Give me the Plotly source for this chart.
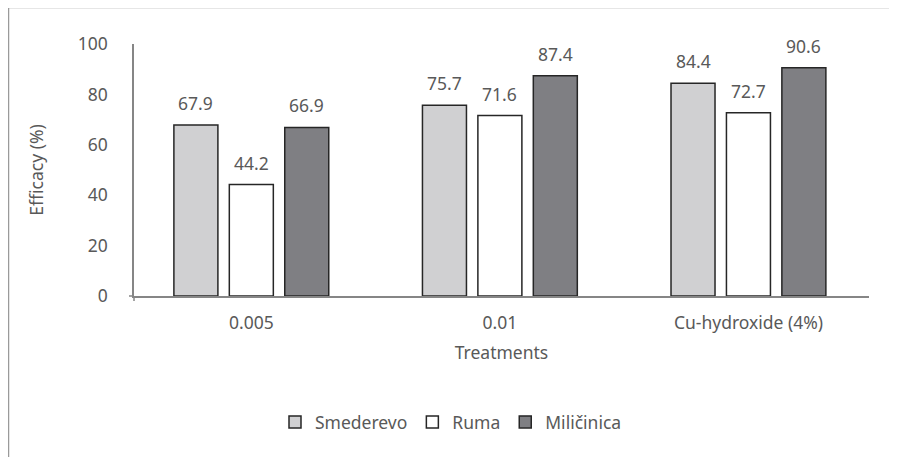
import plotly.graph_objects as go

categories = ["0.005", "0.01", "Cu-hydroxide (4%)"]
series_names = ["Smederevo", "Ruma", "Miličinica"]
smederevo = [67.9, 75.7, 84.4]
ruma = [44.2, 71.6, 72.7]
milicinica = [66.9, 87.4, 90.6]
y_ticks = [0, 20, 40, 60, 80, 100]

colors = ["#D0D0D2", "#FFFFFF", "#7F7F83"]
txt = "#595959"
font_family = "Noto Sans"
FS = 17.5

# page has an 8px body margin; figure sits at (8, 8) in the window
W, H = 889, 449
L, R, T, B = 126, 28, 36, 161
pw, ph = W - L - R, H - T - B
BARGAP, BARGROUPGAP = 0.331, 0.206
XR = [-0.472, 2.485]
slot_px = pw / (XR[1] - XR[0]) * (1 - BARGAP) / 3

fig = go.Figure()
annotations = []
for i, (name, vals, col) in enumerate(zip(series_names, [smederevo, ruma, milicinica], colors)):
    fig.add_trace(go.Bar(
        x=categories, y=vals, name=name,
        marker=dict(color=col, line=dict(color="#262626", width=1.5)),
    ))
    for j, v in enumerate(vals):
        # category axis: annotation x given as category index
        annotations.append(dict(
            x=j, y=v, xref="x", yref="y", text=f"{v:.1f}", showarrow=False,
            xshift=(i - 1) * slot_px, yshift=22, yanchor="middle",
            font=dict(size=FS, color=txt, family=font_family),
        ))

def px2x(px):
    return (px - L) / pw

def py2y(py):
    return (H - B - py) / ph

fig.update_layout(
    width=W, height=H,
    margin=dict(l=L, r=R, t=T, b=B),
    paper_bgcolor="white", plot_bgcolor="white",
    barmode="group", bargap=BARGAP, bargroupgap=BARGROUPGAP,
    font=dict(family=font_family, color=txt, size=FS),
    showlegend=True,
    annotations=annotations,
    legend=dict(orientation="h", x=px2x(443), xanchor="center", y=py2y(414), yanchor="middle",
                font=dict(size=FS, color=txt), itemwidth=30, traceorder="normal"),
    xaxis=dict(
        type="category", range=XR, showline=True, linecolor="#868686", linewidth=1.5,
        ticks="", showgrid=False, tickfont=dict(size=FS, color=txt),
        ticklabelstandoff=10,
        title=dict(text="Treatments", font=dict(size=FS, color=txt), standoff=14),
    ),
    yaxis=dict(
        range=[0, 100], tickvals=y_ticks, showline=True, linecolor="#868686", linewidth=1.5,
        ticks="", showgrid=False, zeroline=False, tickfont=dict(size=FS, color=txt),
        ticklabelstandoff=21,
        title=dict(text="Efficacy (%)", font=dict(size=FS, color=txt), standoff=30),
    ),
    shapes=[
        dict(type="line", xref="paper", yref="paper", x0=px2x(0.5), x1=px2x(W + 5), y0=py2y(-0.5), y1=py2y(-0.5),
             line=dict(color="#9A9A9A", width=1.5)),
        dict(type="line", xref="paper", yref="paper", x0=px2x(0.5), x1=px2x(0.5), y0=py2y(-0.5), y1=py2y(H + 5),
             line=dict(color="#9A9A9A", width=1.5)),
        dict(type="line", xref="paper", yref="paper", x0=px2x(L - 5), x1=0, y0=0, y1=0,
             line=dict(color="#868686", width=1.5)),
        dict(type="line", xref="paper", yref="paper", x0=0, x1=0, y0=0, y1=py2y(H - B + 5),
             line=dict(color="#868686", width=1.5)),
    ],
)

fig.write_html("out.html")
